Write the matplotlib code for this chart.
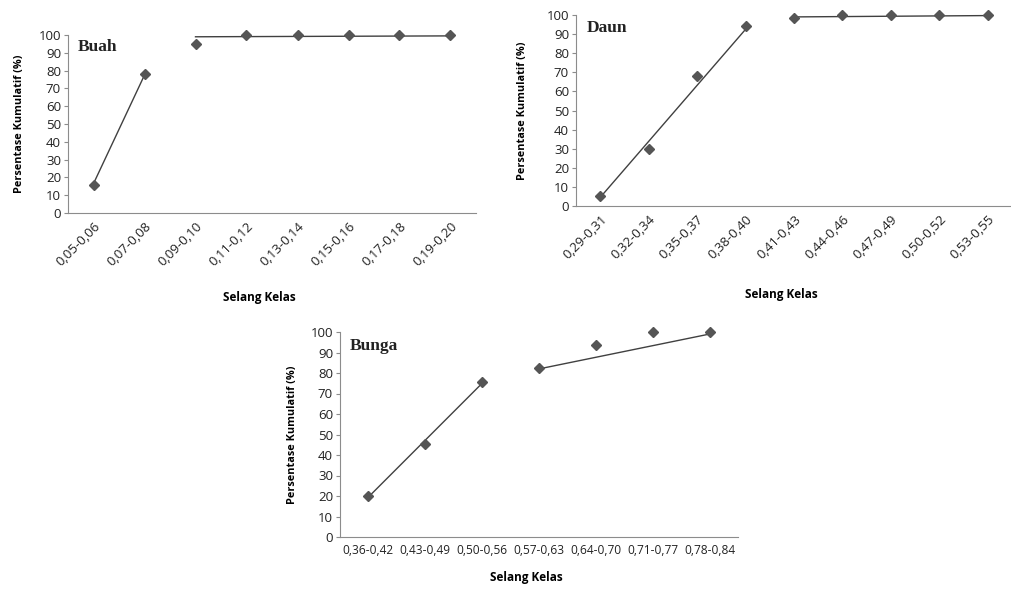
import matplotlib
matplotlib.use("Agg")
import matplotlib.pyplot as plt

# data
buah_kelas = ["0,05-0,06", "0,07-0,08", "0,09-0,10", "0,11-0,12",
              "0,13-0,14", "0,15-0,16", "0,17-0,18", "0,19-0,20"]
buah_persen = [16, 78, 95, 100, 100, 100, 100, 100]
buah_garis_x = [["0,05-0,06", "0,07-0,08"], ["0,09-0,10", "0,19-0,20"]]
buah_garis_y = [[16.5, 77.5], [99, 99.5]]

daun_kelas = ["0,29-0,31", "0,32-0,34", "0,35-0,37", "0,38-0,40", "0,41-0,43",
              "0,44-0,46", "0,47-0,49", "0,50-0,52", "0,53-0,55"]
daun_persen = [5, 30, 68, 94, 98.5, 100, 100, 100, 100]
daun_garis_x = [["0,29-0,31", "0,38-0,40"], ["0,41-0,43", "0,53-0,55"]]
daun_garis_y = [[4.5, 92.5], [99, 99.7]]

bunga_kelas = ["0,36-0,42", "0,43-0,49", "0,50-0,56", "0,57-0,63",
               "0,64-0,70", "0,71-0,77", "0,78-0,84"]
bunga_persen = [20, 45.5, 75.5, 82.5, 93.5, 100, 100]
bunga_garis_x = [["0,36-0,42", "0,50-0,56"], ["0,57-0,63", "0,78-0,84"]]
bunga_garis_y = [[19.5, 75], [82, 99]]

abu = "#555555"
sumbu = "#8c8c8c"

fig = plt.figure(figsize=(10.12, 5.93), dpi=100)
W, H = 1012, 593


def panel(box, kelas, persen, gx, gy, judul, putar, ylab_x, xlab_y, xsize):
    l, t, r, b = box
    ax = fig.add_axes([l / W, 1 - b / H, (r - l) / W, (b - t) / H])
    ax.plot(kelas, persen, ls="none", marker="D", ms=5.5, color=abu,
            clip_on=False, zorder=3)
    for xs, ys in zip(gx, gy):
        ax.plot(xs, ys, color="#404040", lw=1, clip_on=False)
    ax.set_xlim(-0.5, len(kelas) - 0.5)
    ax.set_ylim(0, 100)
    ax.set_yticks(range(0, 101, 10))
    for s in ["top", "right"]:
        ax.spines[s].set_visible(False)
    ax.spines["left"].set_color(sumbu)
    ax.spines["bottom"].set_color(sumbu)
    ax.tick_params(axis="y", length=3, color=sumbu, labelsize=9.5, pad=2)
    ax.tick_params(axis="x", length=0, labelsize=xsize, pad=5)
    for lbl in ax.get_xticklabels() + ax.get_yticklabels():
        lbl.set_fontfamily("Open Sans")
        lbl.set_color("#222222")
    if putar:
        plt.setp(ax.get_xticklabels(), rotation=45, ha="right",
                 rotation_mode="anchor")
    ax.text(0.025, 0.93, judul, transform=ax.transAxes, fontsize=12.5,
            fontweight="bold", family="Liberation Serif", color="#222222",
            va="center")
    fig.text(ylab_x / W, 1 - (t + b) / 2 / H, "Persentase Kumulatif (%)",
             rotation=90, ha="center", va="center", fontsize=7.8,
             fontweight="bold", family="Open Sans")
    fig.text((l + r) / 2 / W - 0.012, 1 - xlab_y / H, "Selang Kelas",
             ha="center", va="center", fontsize=8.5, fontweight="bold",
             family="Open Sans")
    return ax


panel((68, 35, 476, 213), buah_kelas, buah_persen, buah_garis_x,
      buah_garis_y, "Buah", True, 20, 297, 9.5)
panel((576, 15, 1012, 206), daun_kelas, daun_persen, daun_garis_x,
      daun_garis_y, "Daun", True, 522, 295, 9.5)
panel((340, 332, 738, 537), bunga_kelas, bunga_persen, bunga_garis_x,
      bunga_garis_y, "Bunga", False, 293, 577, 8.6)

fig.savefig("out.png", dpi=100)
